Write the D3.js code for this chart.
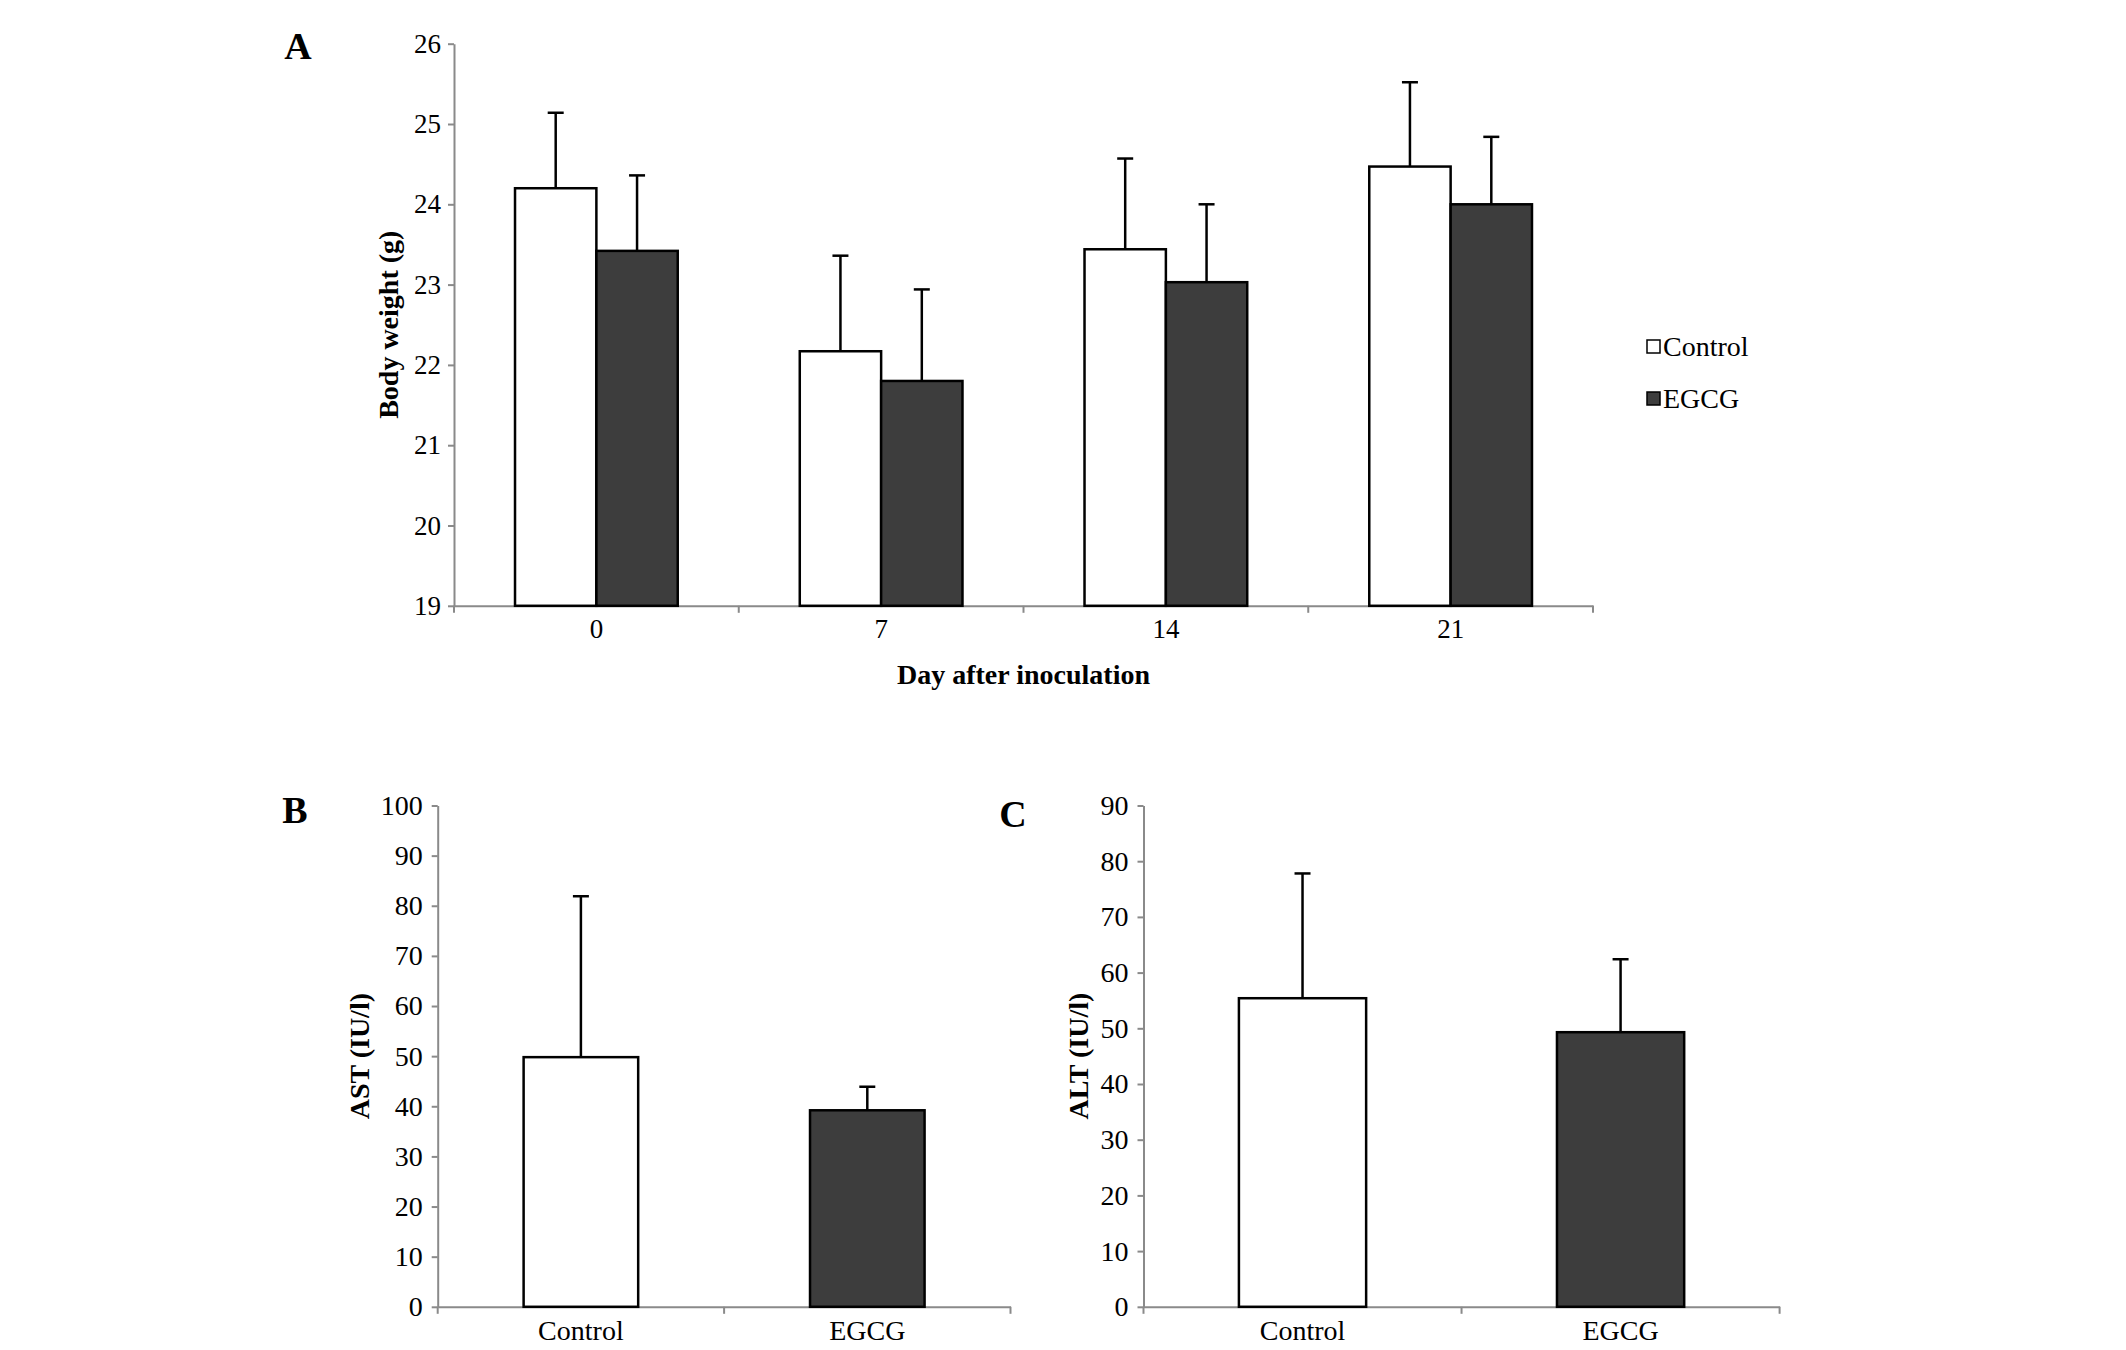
<!DOCTYPE html>
<html lang="en">
<head>
    <meta charset="UTF-8">
    <title>Body weight, AST and ALT</title>
    <script type="text/javascript" src="https://d3js.org/d3.v7.min.js"></script>
    <style>
        body { margin: 0; background: #fff; }
        text { font-family: "Liberation Serif", "Times New Roman", serif; fill: #000; }
        .tick text { font-size: 27px; }
        .liver .tick text { font-size: 28px; }
        .axis path, .axis line { stroke: #8a8a8a; stroke-width: 2; }
        .title { font-size: 28px; font-weight: bold; }
        .panel { font-size: 38px; font-weight: bold; }
        .bar { stroke: #000; stroke-width: 2.5; }
        .bar.Control { fill: #ffffff; }
        .bar.EGCG { fill: #3d3d3d; }
        .err { stroke: #000; stroke-width: 2.5; }
    </style>
</head>
<body>
    <div id="chart"></div>

    <script type="text/javascript">

        // panel A: body weight per day
        var days = ["0", "7", "14", "21"];
        var series = ["Control", "EGCG"];
        var controlWeight = [24.2, 22.17, 23.44, 24.47];
        var controlWeightSD = [0.94, 1.19, 1.13, 1.05];
        var egcgWeight = [23.42, 21.8, 23.03, 24.0];
        var egcgWeightSD = [0.94, 1.14, 0.97, 0.84];
        var weightTicks = [19, 20, 21, 22, 23, 24, 25, 26];

        // panels B and C: liver enzymes
        var groups = ["Control", "EGCG"];
        var astValues = [49.8, 39.2];
        var astSD = [32.1, 4.7];
        var astTicks = [0, 10, 20, 30, 40, 50, 60, 70, 80, 90, 100];
        var altValues = [55.4, 49.3];
        var altSD = [22.4, 13.1];
        var altTicks = [0, 10, 20, 30, 40, 50, 60, 70, 80, 90];

        var w = 2126,
            h = 1350;

        var svg = d3.select("#chart")
            .append("svg")
            .attr("width", w)
            .attr("height", h);

        // y axis + bottom axis with ticks on band edges
        function drawAxes(g, x, y, ticks, labelPad) {
            g.append("g")
                .attr("class", "axis")
                .attr("transform", "translate(" + x.range()[0] + ",0)")
                .call(d3.axisLeft(y).tickValues(ticks).tickFormat(d3.format("d"))
                    .tickSize(6).tickSizeOuter(0).tickPadding(labelPad));

            var xa = g.append("g")
                .attr("class", "axis")
                .attr("transform", "translate(0," + y.range()[0] + ")")
                .call(d3.axisBottom(x).tickSize(0).tickSizeOuter(0).tickPadding(13));

            var edges = d3.range(x.domain().length + 1).map(function(i) {
                return x.range()[0] + i * x.step();
            });
            xa.selectAll(".edge")
                .data(edges)
                .enter()
                .append("line")
                .attr("class", "edge")
                .attr("x1", function(d) { return d; })
                .attr("x2", function(d) { return d; })
                .attr("y1", 0)
                .attr("y2", 7);
        }

        function errorBar(g, cx, yTop, yBar) {
            g.append("line").attr("class", "err")
                .attr("x1", cx).attr("x2", cx)
                .attr("y1", yBar).attr("y2", yTop);
            g.append("line").attr("class", "err")
                .attr("x1", cx - 8).attr("x2", cx + 8)
                .attr("y1", yTop).attr("y2", yTop);
        }

        // ---------- A ----------
        var gA = svg.append("g");
        var xA = d3.scaleBand().domain(days).range([454, 1593]);
        var xA1 = d3.scaleBand().domain(series).range([0, xA.bandwidth()]).paddingOuter(0.75);
        var yA = d3.scaleLinear().domain([19, 26]).range([605.8, 43.7]);

        drawAxes(gA, xA, yA, weightTicks, 7);

        var weightRows = days.map(function(d, i) {
            return [
                {day: d, s: "Control", v: controlWeight[i], sd: controlWeightSD[i]},
                {day: d, s: "EGCG", v: egcgWeight[i], sd: egcgWeightSD[i]}
            ];
        });
        var flatA = [].concat.apply([], weightRows);

        flatA.forEach(function(d) {
            var bx = xA(d.day) + xA1(d.s);
            errorBar(gA, bx + xA1.bandwidth() / 2, yA(d.v + d.sd), yA(d.v));
        });
        gA.selectAll(".bar")
            .data(flatA)
            .enter()
            .append("rect")
            .attr("class", function(d) { return "bar " + d.s; })
            .attr("x", function(d) { return xA(d.day) + xA1(d.s); })
            .attr("y", function(d) { return yA(d.v); })
            .attr("width", xA1.bandwidth())
            .attr("height", function(d) { return yA(19) - yA(d.v); });

        gA.append("text").attr("class", "panel").attr("x", 298).attr("y", 59)
            .attr("text-anchor", "middle").text("A");
        gA.append("text").attr("class", "title")
            .attr("transform", "translate(398," + (yA(22.5)) + ") rotate(-90)")
            .attr("text-anchor", "middle").text("Body weight (g)");
        gA.append("text").attr("class", "title")
            .attr("x", (xA.range()[0] + xA.range()[1]) / 2).attr("y", 684)
            .attr("text-anchor", "middle").text("Day after inoculation");

        // legend
        var legend = gA.selectAll(".legend")
            .data(series)
            .enter()
            .append("g")
            .attr("class", "legend")
            .attr("transform", function(d, i) { return "translate(1647," + (340 + i * 52) + ")"; });
        legend.append("rect")
            .attr("class", function(d) { return "bar " + d; })
            .style("stroke-width", 1.5)
            .attr("width", 13).attr("height", 13);
        legend.append("text")
            .attr("x", 16).attr("y", 16)
            .style("font-size", "28px")
            .text(function(d) { return d; });

        // ---------- B and C ----------
        function liverPanel(letter, lx, ly, x0, x1, max, vals, sds, ticks, label, labelX) {
            var g = svg.append("g").attr("class", "liver");
            var x = d3.scaleBand().domain(groups).range([x0, x1]);
            var y = d3.scaleLinear().domain([0, max]).range([1306.8, 805.5]);
            drawAxes(g, x, y, ticks, 9);

            var rows = groups.map(function(d, i) { return {s: d, v: vals[i], sd: sds[i]}; });
            var bw = x.bandwidth() * 0.4;
            rows.forEach(function(d) {
                errorBar(g, x(d.s) + x.bandwidth() / 2, y(d.v + d.sd), y(d.v));
            });
            g.selectAll(".bar")
                .data(rows)
                .enter()
                .append("rect")
                .attr("class", function(d) { return "bar " + d.s; })
                .attr("x", function(d) { return x(d.s) + (x.bandwidth() - bw) / 2; })
                .attr("y", function(d) { return y(d.v); })
                .attr("width", bw)
                .attr("height", function(d) { return y(0) - y(d.v); });

            g.append("text").attr("class", "panel").attr("x", lx).attr("y", ly)
                .attr("text-anchor", "middle").text(letter);
            g.append("text").attr("class", "title")
                .attr("transform", "translate(" + labelX + "," + y(max / 2) + ") rotate(-90)")
                .attr("text-anchor", "middle").text(label);
        }

        liverPanel("B", 295, 823, 437.7, 1010.5, 100, astValues, astSD, astTicks, "AST (IU/l)", 369);
        liverPanel("C", 1013, 827, 1143.5, 1779.6, 90, altValues, altSD, altTicks, "ALT (IU/l)", 1088);
    </script>
</body>
</html>
